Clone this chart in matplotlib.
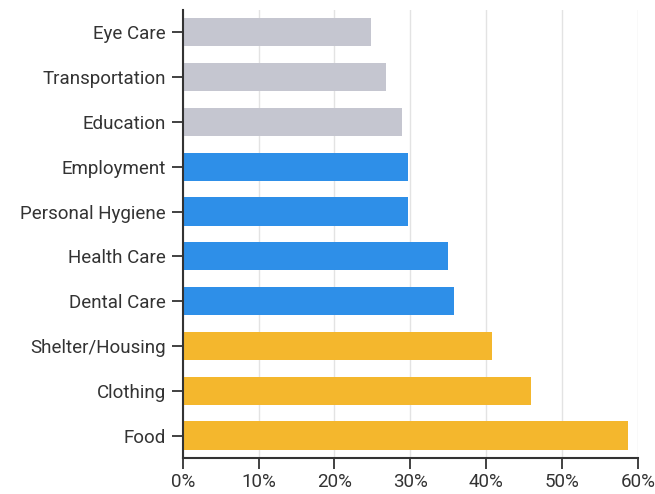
import matplotlib.pyplot as plt
from matplotlib.ticker import PercentFormatter

plt.rcParams['font.family'] = ['Roboto', 'DejaVu Sans']

# Data (top to bottom as shown)
categories = ['Eye Care', 'Transportation', 'Education', 'Employment', 'Personal Hygiene',
              'Health Care', 'Dental Care', 'Shelter/Housing', 'Clothing', 'Food']
values = [24.8, 26.8, 28.9, 29.7, 29.7, 34.9, 35.8, 40.7, 45.9, 58.7]
groups = ['low', 'low', 'low', 'mid', 'mid', 'mid', 'mid', 'high', 'high', 'high']
group_colors = {'low': '#c5c6d0', 'mid': '#2e8fe8', 'high': '#f4b72d'}

fig = plt.figure(figsize=(6.55, 4.94), dpi=100)
ax = fig.add_axes([0.279, 0.073, 0.695, 0.907])

ypos = list(range(len(categories)))
ax.barh(ypos, values, height=0.63, color=[group_colors[g] for g in groups], zorder=2)

ax.set_yticks(ypos)
ax.set_yticklabels(categories)
ax.set_ylim(len(categories) - 0.5, -0.5)
ax.set_xlim(0, 60)
ax.set_xticks(range(0, 61, 10))
ax.xaxis.set_major_formatter(PercentFormatter(decimals=0))

ax.grid(axis='x', color='#e3e3e3', linewidth=1, zorder=0)
for s in ['top', 'right']:
    ax.spines[s].set_visible(False)
for s in ['left', 'bottom']:
    ax.spines[s].set_color('#333333')
    ax.spines[s].set_linewidth(1.5)
ax.tick_params(axis='both', length=8, width=1.3, color='#333333',
               labelsize=13.5, labelcolor='#333333')
ax.tick_params(axis='y', pad=4)
ax.tick_params(axis='x', pad=3)

fig.savefig('out.png', dpi=100)
